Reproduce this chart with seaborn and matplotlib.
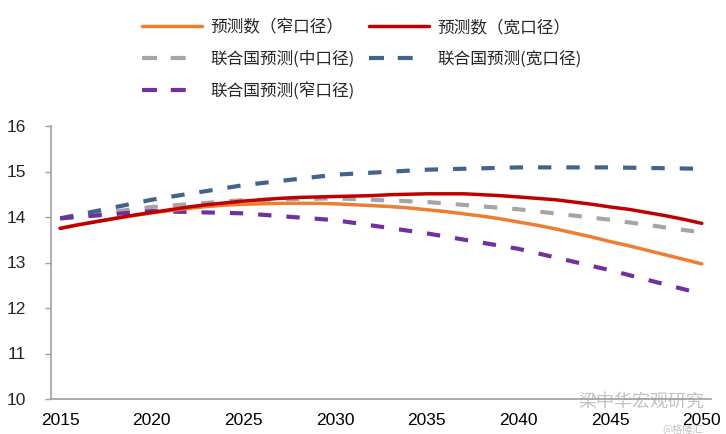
import numpy as np
import pandas as pd
import matplotlib
matplotlib.use("Agg")
import matplotlib.pyplot as plt
import seaborn as sns
from matplotlib.lines import Line2D

years = list(range(2015, 2051))
narrow_pred = [13.75, 13.83, 13.90, 13.97, 14.03, 14.09, 14.14, 14.19, 14.23, 14.26,
               14.28, 14.29, 14.30, 14.30, 14.30, 14.29, 14.27, 14.25, 14.23, 14.20,
               14.16, 14.12, 14.07, 14.02, 13.96, 13.89, 13.82, 13.74, 13.65, 13.56,
               13.46, 13.37, 13.27, 13.17, 13.07, 12.97]
wide_pred = [13.75, 13.83, 13.90, 13.97, 14.04, 14.10, 14.16, 14.22, 14.27, 14.31,
             14.35, 14.38, 14.41, 14.43, 14.44, 14.45, 14.46, 14.47, 14.49, 14.50,
             14.51, 14.51, 14.51, 14.49, 14.47, 14.44, 14.41, 14.38, 14.33, 14.28,
             14.22, 14.17, 14.10, 14.03, 13.95, 13.86]
un_years = [2015, 2020, 2025, 2030, 2035, 2040, 2045, 2050]
un_medium = [13.97, 14.22, 14.37, 14.41, 14.33, 14.17, 13.94, 13.66]
un_high = [13.97, 14.38, 14.70, 14.93, 15.04, 15.09, 15.09, 15.06]
un_low = [13.97, 14.13, 14.08, 13.93, 13.64, 13.30, 12.83, 12.31]

labels = ["预测数（窄口径）", "预测数（宽口径）", "联合国预测(中口径)",
          "联合国预测(宽口径)", "联合国预测(窄口径)"]
colors = ["#ED7D31", "#C00000", "#A5A5A5", "#41648C", "#7030A0"]

sns.set_style("white")
plt.rcParams['font.family'] = ['Liberation Sans', 'Noto Sans CJK SC', 'DejaVu Sans']

fig = plt.figure(figsize=(7.26, 4.34), dpi=100)
ax = fig.add_axes([51/726, 1 - 399/434, (711 - 51)/726, (399 - 126)/434])

dash = (0, (3.2, 3.6))
series = [
    (years, narrow_pred, colors[0], "-", 2.5),
    (years, wide_pred, colors[1], "-", 2.5),
    (un_years, un_medium, colors[2], dash, 3.0),
    (un_years, un_high, colors[3], dash, 3.0),
    (un_years, un_low, colors[4], dash, 3.0),
]
order = [2, 3, 4, 0, 1]
for i in order:
    x, y, c, ls, lw = series[i]
    df = pd.DataFrame({"year": x, "value": y})
    sns.lineplot(data=df, x="year", y="value", ax=ax, color=c, linestyle=ls,
                 linewidth=lw, legend=False)

ax.set_xlim(2014.5, 2050.5)
ax.set_ylim(10, 16)
ax.set_xlabel("")
ax.set_ylabel("")
ax.set_yticks(range(10, 17))
ax.set_xticks(list(range(2015, 2051, 5)))
ax.set_xticks([2014.5 + 5 * k for k in range(1, 8)], minor=True)
ax.tick_params(axis="x", which="major", length=0, labelsize=12.5, pad=10, colors="black")
ax.tick_params(axis="x", which="minor", length=4, width=1, color="#A0A0A0", direction="out")
ax.tick_params(axis="y", which="major", length=4, width=1, color="#A0A0A0", direction="out",
               labelsize=12.5, pad=14, left=True)
for s in ["top", "right"]:
    ax.spines[s].set_visible(False)
for s in ["left", "bottom"]:
    ax.spines[s].set_color("#A0A0A0")
    ax.spines[s].set_linewidth(1.2)

leg_dash = (0, (3.6, 3.3, 3.6, 100))
handles = []
for i in range(5):
    x, y, c, ls, lw = series[i]
    handles.append(Line2D([0], [0], color=c, linestyle=(ls if ls == "-" else leg_dash),
                          linewidth=lw))
leg_order = [0, 2, 4, 1, 3]
leg = fig.legend([handles[i] for i in leg_order], [labels[i] for i in leg_order],
                 ncol=2, loc="upper left", bbox_to_anchor=(127/726, 1 - 4/434),
                 frameon=False, handlelength=3.6, handletextpad=0.5,
                 columnspacing=0.85, labelspacing=0.88,
                 prop={"family": ["Noto Sans CJK SC"], "size": 12})

# watermark
fig.text(578/726, 1 - 402/434, "梁中华宏观研究", fontsize=13, color="#9A9A9A", alpha=0.6,
         family=["Noto Sans CJK SC"], va="center", ha="left")
fig.text(662/726, 1 - 429/434, "@格隆汇", fontsize=7.5, color="#9A9A9A", alpha=0.6,
         family=["Noto Sans CJK SC"], va="center", ha="left")

fig.savefig("out.png", dpi=100)
